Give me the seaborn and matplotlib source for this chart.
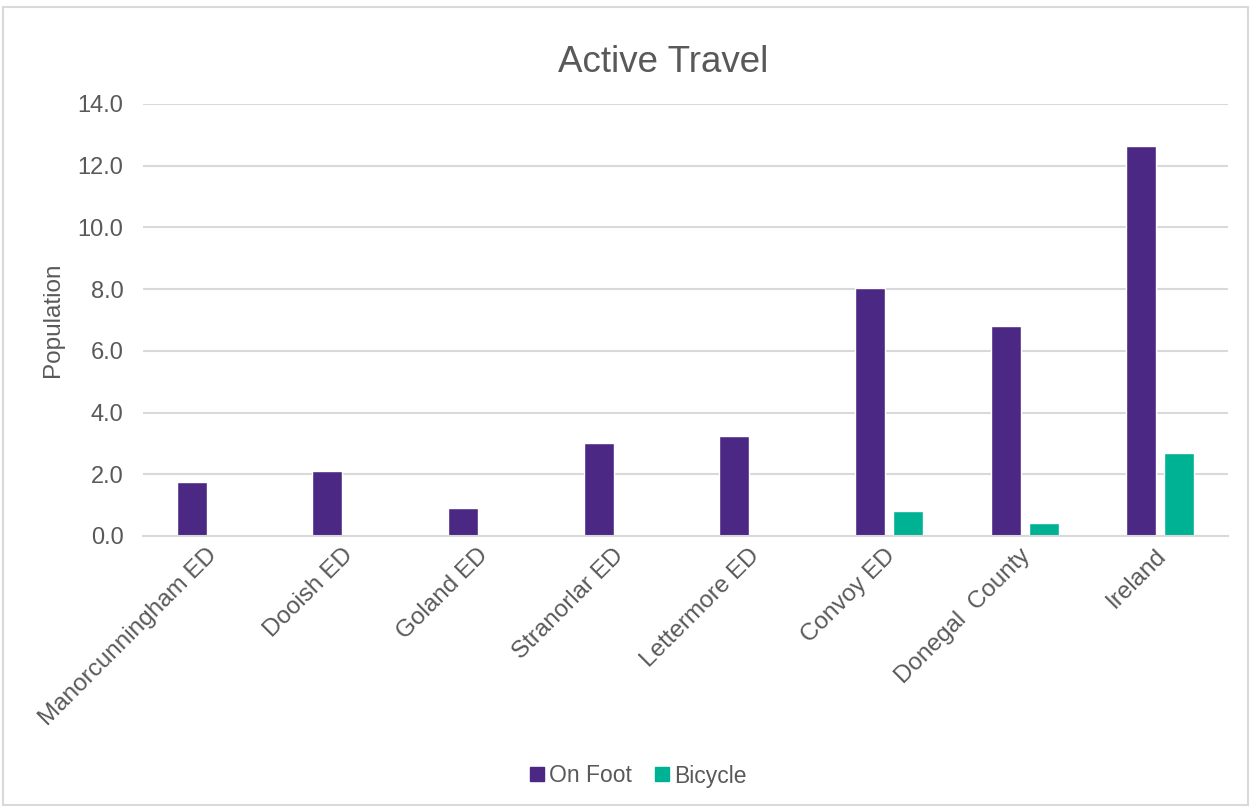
import matplotlib
matplotlib.use("Agg")
import matplotlib.pyplot as plt
import seaborn as sns
import pandas as pd
from matplotlib.lines import Line2D
from matplotlib.patches import Rectangle
from matplotlib.transforms import ScaledTranslation

areas = ['Manorcunningham ED', 'Dooish ED', 'Goland ED', 'Stranorlar ED',
         'Lettermore ED', 'Convoy ED', 'Donegal  County', 'Ireland']
on_foot = [1.74, 2.12, 0.90, 3.01, 3.24, 8.04, 6.79, 12.65]
bicycle = [0.0, 0.0, 0.0, 0.0, 0.0, 0.80, 0.41, 2.70]
series = ['On Foot', 'Bicycle']
colours = ['#4B2884', '#00B294']
y_ticks = [0, 2, 4, 6, 8, 10, 12, 14]

df = pd.DataFrame({
    'Area': areas * 2,
    'Mode': [series[0]] * len(areas) + [series[1]] * len(areas),
    'Value': on_foot + bicycle,
})

sns.set_theme(style='white')
plt.rcParams['font.family'] = ['Liberation Sans', 'DejaVu Sans']
text_col = '#595959'
grid_col = '#D9D9D9'

fig = plt.figure(figsize=(12.52, 8.07), dpi=100)
ax = fig.add_axes([143 / 1252, 1 - 536 / 807, (1228 - 143) / 1252, (536 - 104) / 807])

sns.barplot(data=df, x='Area', y='Value', hue='Mode', palette=colours,
            width=0.56, gap=0.21, ax=ax, legend=False, saturation=1)

ax.set_ylim(0, 14)
ax.set_yticks(y_ticks)
ax.set_yticklabels([f'{v:.1f}' for v in y_ticks])
ax.yaxis.grid(True, color=grid_col, linewidth=1.5)
ax.set_axisbelow(True)
for s in ['top', 'right', 'left']:
    ax.spines[s].set_visible(False)
ax.spines['bottom'].set_color(grid_col)
ax.spines['bottom'].set_linewidth(1.5)
ax.tick_params(axis='y', length=0, pad=14, labelsize=17, labelcolor=text_col)
ax.tick_params(axis='x', length=0, pad=6, labelsize=17.5, labelcolor=text_col)
shift = ScaledTranslation(-5 / 100, 0, fig.dpi_scale_trans)
for lbl in ax.get_xticklabels():
    lbl.set_rotation(45)
    lbl.set_ha('right')
    lbl.set_rotation_mode('anchor')
    lbl.set_transform(lbl.get_transform() + shift)
ax.set_xlabel('')
ax.set_ylabel('Population', fontsize=17.5, color=text_col, labelpad=10)
fig.text(663 / 1252, 1 - 63 / 807, 'Active Travel', fontsize=26.5,
         color=text_col, ha='center', va='center')

handles = [Line2D([], [], marker='s', linestyle='', markersize=10,
                  markerfacecolor=c, markeredgecolor=c) for c in colours]
fig.legend(handles, series, loc='center', bbox_to_anchor=(636 / 1252, 1 - 776 / 807),
           ncol=2, frameon=False, fontsize=16.5, labelcolor=text_col,
           handletextpad=0.05, columnspacing=0.8, handlelength=1.0)

fig.patches.append(Rectangle((3 / 1252, 2 / 807), 1245 / 1252, 798 / 807,
                             transform=fig.transFigure, fill=False,
                             edgecolor=grid_col, linewidth=1.5))

fig.savefig('out.png', dpi=100)
